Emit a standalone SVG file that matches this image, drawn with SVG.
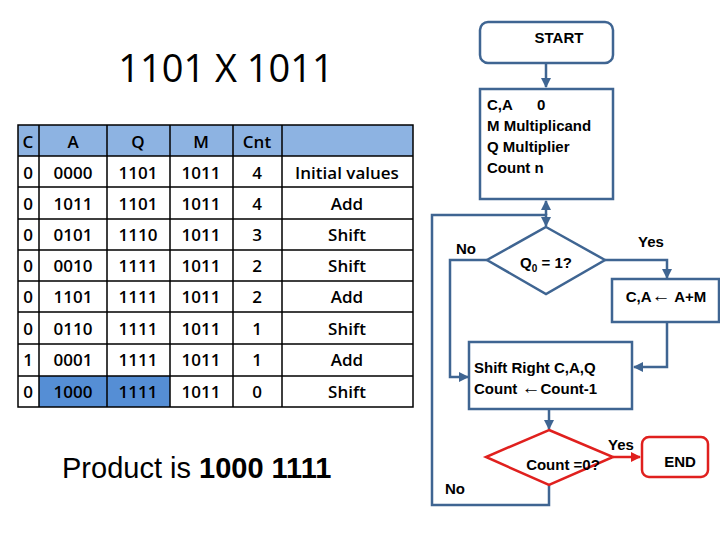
<svg xmlns="http://www.w3.org/2000/svg" width="720" height="540" viewBox="0 0 720 540">
<style>
.t{font-family:"Open Sans","Liberation Sans",sans-serif;font-size:17px;font-weight:600;fill:#000;text-anchor:middle}
.b{font-family:"Liberation Sans",Arial,sans-serif;font-weight:bold;font-size:15px;fill:#000}
.box{fill:#fff;stroke:#3f6592;stroke-width:2.5}
.red{fill:#fff;stroke:#e0201e;stroke-width:2.5}
.ln{fill:none;stroke:#3f6592;stroke-width:2.5}
.grid{stroke:#000;stroke-width:1.5;fill:none}
.ar{font-size:19px}
</style>
<defs>
<marker id="a" viewBox="0 0 10 10" refX="9" refY="5" markerWidth="4" markerHeight="4" orient="auto"><path d="M0,0L10,5L0,10z" fill="#3f6592"/></marker>
<marker id="r" viewBox="0 0 10 10" refX="9" refY="5" markerWidth="4" markerHeight="4" orient="auto"><path d="M0,0L10,5L0,10z" fill="#e0201e"/></marker>
</defs>
<rect width="720" height="540" fill="#fff"/>
<text x="226" y="82" font-family="Open Sans,Liberation Sans,sans-serif" font-size="38" text-anchor="middle">1101 X 1011</text>
<g id="table">
<rect x="18" y="125" width="395" height="31" fill="#8db3e2"/>
<rect x="39" y="376" width="68" height="31" fill="#558ed5"/>
<rect x="107" y="376" width="63" height="31" fill="#558ed5"/>
<path class="grid" d="M18,125H413V407H18Z M39,125V407 M107,125V407 M170,125V407 M233,125V407 M282,125V407 M18,156H413 M18,187H413 M18,219H413 M18,250H413 M18,281H413 M18,312H413 M18,344H413 M18,376H413"/>
<g class="t">
<text x="28" y="148">C</text><text x="73" y="148">A</text><text x="138" y="148">Q</text><text x="201" y="148">M</text><text x="257" y="148">Cnt</text>
<text x="28" y="179">0</text><text x="73" y="179">0000</text><text x="138" y="179">1101</text><text x="201" y="179">1011</text><text x="257" y="179">4</text><text x="347" y="179">Initial values</text>
<text x="28" y="210">0</text><text x="73" y="210">1011</text><text x="138" y="210">1101</text><text x="201" y="210">1011</text><text x="257" y="210">4</text><text x="347" y="210">Add</text>
<text x="28" y="241">0</text><text x="73" y="241">0101</text><text x="138" y="241">1110</text><text x="201" y="241">1011</text><text x="257" y="241">3</text><text x="347" y="241">Shift</text>
<text x="28" y="272">0</text><text x="73" y="272">0010</text><text x="138" y="272">1111</text><text x="201" y="272">1011</text><text x="257" y="272">2</text><text x="347" y="272">Shift</text>
<text x="28" y="303">0</text><text x="73" y="303">1101</text><text x="138" y="303">1111</text><text x="201" y="303">1011</text><text x="257" y="303">2</text><text x="347" y="303">Add</text>
<text x="28" y="335">0</text><text x="73" y="335">0110</text><text x="138" y="335">1111</text><text x="201" y="335">1011</text><text x="257" y="335">1</text><text x="347" y="335">Shift</text>
<text x="28" y="366">1</text><text x="73" y="366">0001</text><text x="138" y="366">1111</text><text x="201" y="366">1011</text><text x="257" y="366">1</text><text x="347" y="366">Add</text>
<text x="28" y="398">0</text><text x="73" y="398">1000</text><text x="138" y="398">1111</text><text x="201" y="398">1011</text><text x="257" y="398">0</text><text x="347" y="398">Shift</text>
</g>
</g>
<text x="62" y="478" font-family="Liberation Sans,Arial,sans-serif" font-size="29">Product is <tspan font-weight="bold">1000 1111</tspan></text>
<g id="connectors">
<path class="ln" d="M546,63V87" marker-end="url(#a)"/>
<path class="ln" d="M549,485V505H432V215H546V226" marker-end="url(#a)"/>
<path class="ln" d="M546,215V201" marker-end="url(#a)"/>
<path class="ln" d="M605,260H667V278" marker-end="url(#a)"/>
<path class="ln" d="M667,322V367H634" marker-end="url(#a)"/>
<path class="ln" d="M487,260H450V377H468" marker-end="url(#a)"/>
<path class="ln" d="M549,409V429" marker-end="url(#a)"/>
<path d="M613,457H640" fill="none" stroke="#e0201e" stroke-width="2.5" marker-end="url(#r)"/>
</g>
<g id="start"><rect class="box" x="480" y="22" width="133" height="41" rx="8"/><text class="b" x="559" y="43" text-anchor="middle">START</text></g>
<g id="init"><rect class="box" x="480" y="89" width="133" height="110"/>
<text class="b" x="487" y="110" font-size="14">C,A<tspan x="537">0</tspan></text>
<text class="b" x="487" y="131" font-size="14">M Multiplicand</text>
<text class="b" x="487" y="152" font-size="14">Q  Multiplier</text>
<text class="b" x="487" y="173" font-size="14">Count n</text></g>
<g id="q0"><path class="box" d="M546,227L605,260L546,294L487,260Z"/><text class="b" x="546" y="268" text-anchor="middle">Q<tspan font-size="10" dy="4">0</tspan><tspan dy="-4"> = 1?</tspan></text></g>
<g id="add"><rect class="box" x="612" y="279" width="107" height="43"/><text class="b" x="666" y="302" text-anchor="middle">C,A<tspan class="ar">←</tspan> A+M</text></g>
<g id="shift"><rect class="box" x="469" y="342" width="163" height="67"/><text class="b" x="474" y="373">Shift Right C,A,Q</text><text class="b" x="474" y="394">Count <tspan class="ar">←</tspan>Count-1</text></g>
<g id="count"><path class="red" d="M549,430L613,457L549,485L486,457Z"/><text class="b" x="563" y="470" text-anchor="middle">Count =0?</text></g>
<g id="end"><rect class="red" x="642" y="437" width="66" height="40" rx="7"/><text class="b" x="680" y="467" text-anchor="middle">END</text></g>
<g class="b"><text x="638" y="247">Yes</text><text x="456" y="254">No</text><text x="608" y="450">Yes</text><text x="445" y="494">No</text></g>
</svg>
